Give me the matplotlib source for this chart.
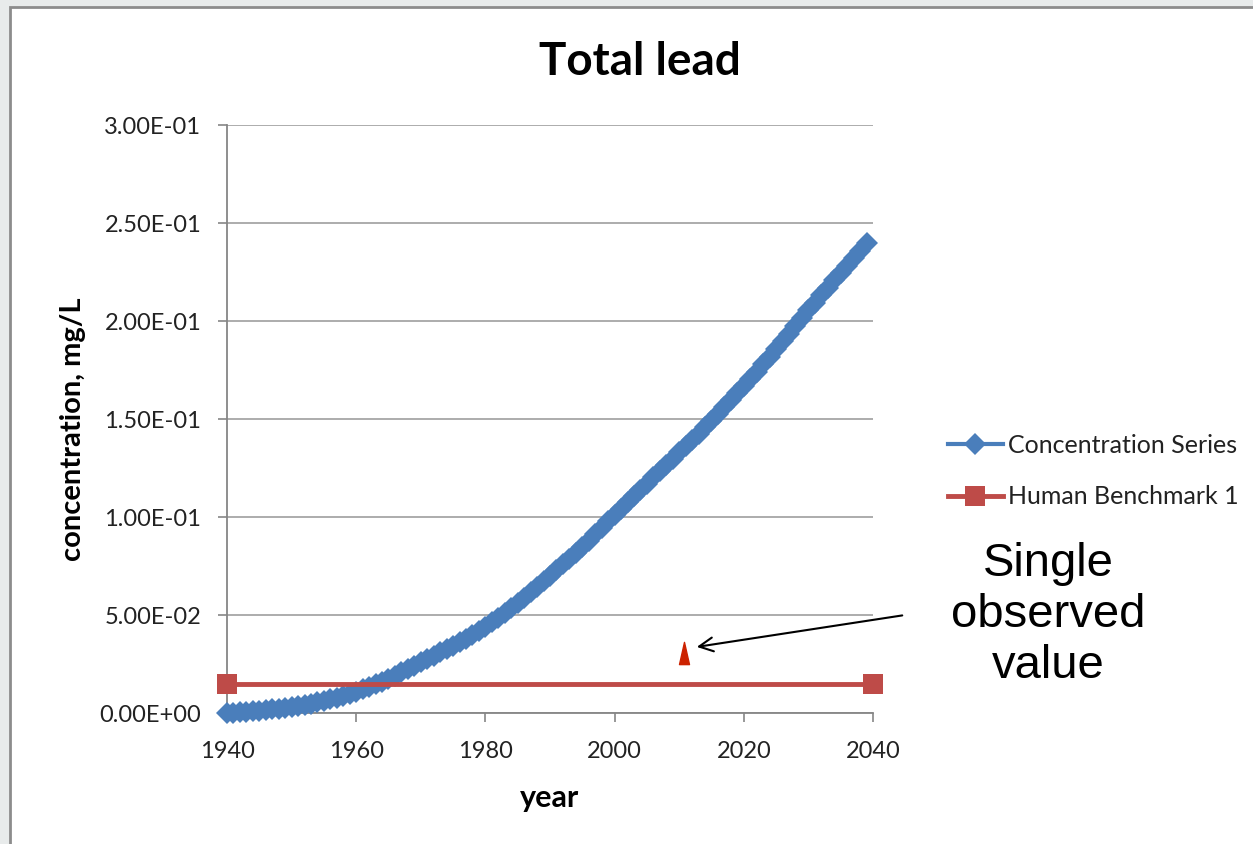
import matplotlib
matplotlib.use("Agg")
import matplotlib.pyplot as plt
from matplotlib.patches import Rectangle
from matplotlib.path import Path
import numpy as np

# ---- data ----
years = list(range(1940, 2040))
concentration = [
    0.0000, 0.0002, 0.0004, 0.0006, 0.0008, 0.0011, 0.0014, 0.0018, 0.0022, 0.0026,
    0.0031, 0.0036, 0.0042, 0.0048, 0.0055, 0.0062, 0.0070, 0.0078, 0.0087, 0.0097,
    0.0107, 0.0120, 0.0133, 0.0146, 0.0160, 0.0174, 0.0190, 0.0207, 0.0224, 0.0240,
    0.0258, 0.0275, 0.0292, 0.0309, 0.0326, 0.0343, 0.0360, 0.0378, 0.0398, 0.0418,
    0.0440, 0.0463, 0.0487, 0.0512, 0.0538, 0.0563, 0.0589, 0.0616, 0.0643, 0.0671,
    0.0700, 0.0729, 0.0758, 0.0788, 0.0818, 0.0849, 0.0880, 0.0912, 0.0944, 0.0978,
    0.1010, 0.1042, 0.1074, 0.1106, 0.1138, 0.1170, 0.1202, 0.1234, 0.1266, 0.1298,
    0.1330, 0.1362, 0.1394, 0.1426, 0.1459, 0.1492, 0.1526, 0.1561, 0.1596, 0.1632,
    0.1668, 0.1705, 0.1742, 0.1780, 0.1818, 0.1857, 0.1896, 0.1935, 0.1975, 0.2015,
    0.2055, 0.2093, 0.2131, 0.2169, 0.2207, 0.2245, 0.2283, 0.2321, 0.2359, 0.2400,
]
benchmark_years = [1940, 2040]
benchmark_values = [0.015, 0.015]
observed_year = [2010.8]
observed_value = [0.0306]

x_ticks = [1940, 1960, 1980, 2000, 2020, 2040]
y_ticks = [0.0, 0.05, 0.10, 0.15, 0.20, 0.25, 0.30]
y_tick_labels = ["0.00E+00", "5.00E-02", "1.00E-01", "1.50E-01", "2.00E-01", "2.50E-01", "3.00E-01"]

W, H = 1253, 844
fig = plt.figure(figsize=(W / 100, H / 100), dpi=100)
fig.patch.set_facecolor("#e8ebeb")

# white chart area with gray border
fig.patches.append(Rectangle((10 / W, -0.01), 1.02, 1 - 7 / H + 0.01, transform=fig.transFigure,
                             facecolor="white", edgecolor="#8c8c8c", linewidth=2, zorder=-10))

font = "Lato"
ax = fig.add_axes([227 / W, (H - 713) / H, (873 - 227) / W, (713 - 125) / H])
ax.set_zorder(1)
ax.set_facecolor("white")
ax.set_xlim(1940, 2040)
ax.set_ylim(0, 0.30)

ax.set_yticks(y_ticks)
ax.set_yticklabels(y_tick_labels, fontfamily=font, fontsize=17, color="#222222")
ax.set_xticks(x_ticks)
ax.set_xticklabels([str(t) for t in x_ticks], fontfamily=font, fontsize=17, color="#222222")
ax.tick_params(axis="both", direction="out", length=6.5, width=1.2, color="#868686")
ax.tick_params(axis="y", pad=12)
ax.tick_params(axis="x", pad=14)
ax.yaxis.grid(True, color="#a6a6a6", linewidth=1.3)
ax.set_axisbelow(True)
for s in ["top", "right"]:
    ax.spines[s].set_visible(False)
for s in ["left", "bottom"]:
    ax.spines[s].set_color("#868686")
    ax.spines[s].set_linewidth(1.3)

ax.plot(years, concentration, color="#4a7ebb", linewidth=3, marker="D", markersize=11.5,
        markeredgewidth=0, label="Concentration Series", clip_on=False, zorder=3)
ax.plot(benchmark_years, benchmark_values, color="#be4b48", linewidth=3.5, marker="s",
        markersize=15, markeredgewidth=0, label="Human Benchmark 1", clip_on=False, zorder=3)

tri = Path([(-0.45, -1), (0.45, -1), (0, 1), (-0.45, -1)],
           [Path.MOVETO, Path.LINETO, Path.LINETO, Path.CLOSEPOLY])
ax.plot(observed_year, observed_value, linestyle="none", marker=tri, markersize=16,
        color="#cc2200", zorder=4)

fig.text(640 / W, 1 - 62 / H, "Total lead", ha="center", va="center", fontfamily=font,
         fontweight="bold", fontsize=33, color="black")
ax.set_ylabel("concentration, mg/L", fontfamily=font, fontweight="bold", fontsize=21)
ax.yaxis.set_label_coords(-141 / (873 - 227), 0.5 - ((429 - 419) / (713 - 125)))
ax.set_xlabel("year", fontfamily=font, fontweight="bold", fontsize=22)
ax.xaxis.set_label_coords((550 - 227) / (873 - 227), -(784 - 713) / (713 - 125))

leg = fig.legend(loc="center left", bbox_to_anchor=(925 / W, 1 - 471 / H), frameon=False,
                 prop={"family": font, "size": 18}, handlelength=2.2, handletextpad=0.2,
                 labelspacing=1.15, borderpad=0.4)
for t in leg.get_texts():
    t.set_color("#222222")

ax.annotate("", xy=(2012.3, 0.0335), xycoords="data",
            xytext=(905 / W, 1 - 615 / H), textcoords="figure fraction",
            arrowprops=dict(arrowstyle="->", color="black", lw=1.5, mutation_scale=25),
            annotation_clip=False)
fig.text(1048 / W, 1 - 615 / H, "Single\nobserved\nvalue", ha="center", va="center",
         fontfamily="Liberation Sans", fontsize=34, linespacing=1.2)

fig.savefig("out.png", dpi=100, facecolor=fig.get_facecolor())
